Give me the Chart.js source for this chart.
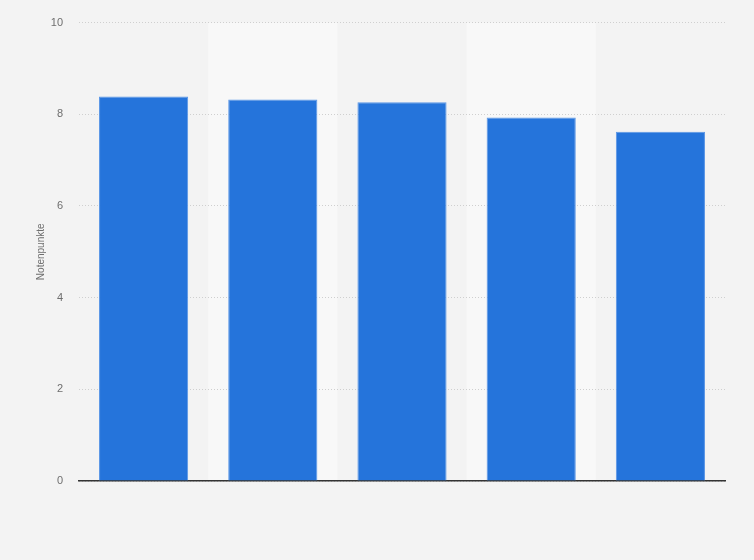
<!DOCTYPE html>
<html>
<head>
<meta charset="utf-8">
<script src="https://cdn.jsdelivr.net/npm/chart.js@4.4.0/dist/chart.umd.min.js"></script>
<style>
  html, body { margin: 0; padding: 0; background: #f3f3f3; }
  #wrap { width: 754px; height: 560px; position: relative; }
</style>
</head>
<body>
<div id="wrap"><canvas id="chart"></canvas></div>
<script>
const categories = ["1", "2", "3", "4", "5"];
const scores = [8.39, 8.32, 8.26, 7.93, 7.62];
const yTicks = [0, 2, 4, 6, 8, 10];

// light bands behind every second column
const bands = {
    id: 'bands',
    beforeDraw(chart) {
        const { ctx, chartArea, scales } = chart;
        ctx.save();
        ctx.fillStyle = '#f3f3f3';
        ctx.fillRect(0, 0, chart.width, chart.height);
        const step = (chartArea.right - chartArea.left) / categories.length;
        ctx.fillStyle = '#f8f8f8';
        categories.forEach((c, i) => {
            if (i % 2 === 1) {
                const mid = scales.x.getPixelForValue(i);
                ctx.fillRect(mid - step / 2, chartArea.top, step, chartArea.bottom - chartArea.top);
            }
        });
        ctx.restore();
    }
};

new Chart(document.getElementById('chart'), {
    type: 'bar',
    data: {
        labels: categories,
        datasets: [{
            data: scores,
            backgroundColor: '#2574db',
            borderColor: '#5a96e6',
            borderWidth: 1,
            barPercentage: 0.69,
            categoryPercentage: 1
        }]
    },
    options: {
        responsive: true,
        maintainAspectRatio: false,
        animation: false,
        layout: { padding: { top: 19, right: 29, left: 0, bottom: 0 } },
        plugins: { legend: { display: false }, tooltip: { enabled: false } },
        scales: {
            x: {
                grid: { display: false },
                ticks: { display: false },
                border: { display: true, color: '#333333', width: 1.5 },
                afterFit(s) { s.height = 79; }
            },
            y: {
                min: 0,
                max: 10,
                afterBuildTicks(s) { s.ticks = yTicks.map(v => ({ value: v })); },
                grid: { color: '#cfcfcf', lineWidth: 1, drawTicks: false },
                border: { display: false, dash: [1, 2] },
                ticks: {
                    color: '#6e6e6e',
                    padding: 16,
                    font: { family: 'Liberation Sans, Arial, sans-serif', size: 11 }
                },
                title: {
                    display: true,
                    text: 'Notenpunkte',
                    color: '#6e6e6e',
                    padding: { top: 35, bottom: 0 },
                    font: { family: 'Liberation Sans, Arial, sans-serif', size: 10 }
                },
                afterFit(s) { s.width = 79; }
            }
        }
    },
    plugins: [bands]
});
</script>
</body>
</html>
